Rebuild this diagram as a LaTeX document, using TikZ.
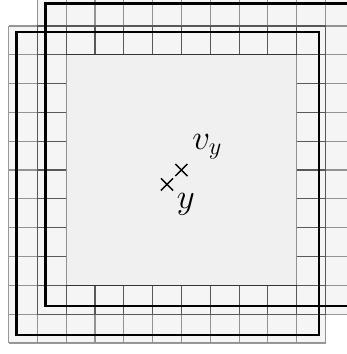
\documentclass[tikz,border=0pt]{standalone}
\usepackage{amsmath,amssymb}
\usepackage{tikz}
\usetikzlibrary{calc}

\begin{document}
\begin{tikzpicture}[x=0.5cm,y=0.5cm,font=\LARGE,
  cellfill/.style={fill=black!4},
  corefill/.style={fill=black!6},
  gridline/.style={draw=black,draw opacity=0.4,line width=0.55pt,step=1},
  thickbox/.style={draw=black,line width=1.1pt},
  crossmark/.style={line width=0.7pt}]
\useasboundingbox (-0.295,-0.382) rectangle (11.71,11.9);
\fill[cellfill] (0,0) rectangle (11,11);
\fill[cellfill] (1,1) rectangle (12,12);
\draw[gridline] (0,0) grid (11,11);
\draw[gridline] (1,1) grid (12,12);
\fill[corefill] (2,2) rectangle (10,10);
\draw[gridline] (2,2) rectangle (10,10);
\draw[thickbox] (0.28,0.28) rectangle (10.78,10.78);
\draw[thickbox] (1.28,1.28) rectangle (11.78,11.78);
\coordinate (y) at (5.5,5.5);
\coordinate (vy) at (6,6);
\draw[crossmark] ($(y)+(-0.21,-0.21)$) -- ($(y)+(0.21,0.21)$) ($(y)+(-0.21,0.21)$) -- ($(y)+(0.21,-0.21)$);
\draw[crossmark] ($(vy)+(-0.21,-0.21)$) -- ($(vy)+(0.21,0.21)$) ($(vy)+(-0.21,0.21)$) -- ($(vy)+(0.21,-0.21)$);
\node (ylab) at (6.15,4.8) {$y$};
\node (vylab) at (6.9,6.8) {$v_y$};
\end{tikzpicture}
\end{document}
